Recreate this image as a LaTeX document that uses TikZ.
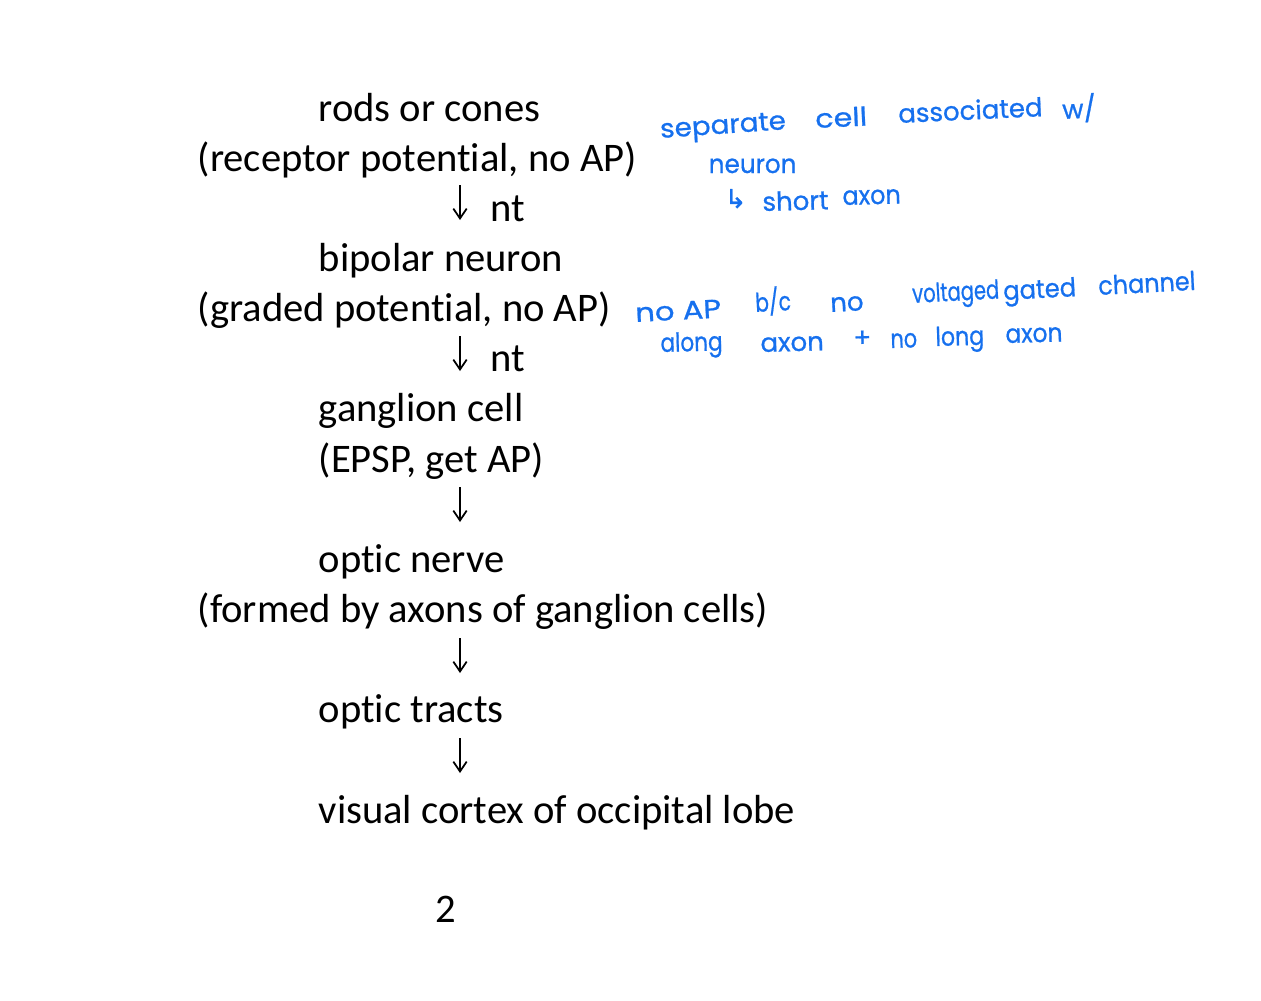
\documentclass[tikz,border=0pt]{standalone}
\usepackage{fontspec}
\setmainfont{Carlito}[Ligatures=NoCommon]
\newfontfamily\handfont{Poppins}[FakeBold=0.8]
\newfontfamily\symfont{DejaVu Sans}[FakeBold=0.8]
\usetikzlibrary{arrows.meta}
\definecolor{inkblue}{HTML}{1670EE}
\newcommand{\hx}[2]{\scalebox{#1}[1]{#2}}
\tikzset{
  line/.style={anchor=base west, inner sep=0pt, font=\fontsize{11.55pt}{14pt}\selectfont, text=black},
  hand/.style={anchor=base west, inner sep=0pt, font=\handfont\fontsize{7.4pt}{9pt}\selectfont, text=inkblue},
  flowarrow/.style={line width=0.5pt, -{Straight Barb[length=2.8pt,width=3.8pt,line width=0.5pt]}}
}
\begin{document}
\begin{tikzpicture}[x=0.1mm,y=-0.1mm]
\useasboundingbox (0,0) rectangle (1261,1000);
% main flow
\node[line] (n1) at (318,121) {rods or cones};
\node[line] (n2) at (197,171.2) {(receptor potential, no AP)};
\node[line] (nt1) at (490,221.3) {nt};
\node[line] (n3) at (318,271.5) {bipolar neuron};
\node[line] (n4) at (197,321.6) {(graded potential, no AP)};
\node[line] (nt2) at (490,371.8) {nt};
\node[line] (n5) at (318,421.9) {ganglion cell};
\node[line] (n6) at (318,472.1) {(EPSP, get AP)};
\node[line] (n7) at (318,572.4) {optic nerve};
\node[line] (n8) at (197,622.5) {(formed by axons of ganglion cells)};
\node[line] (n9) at (318,722.8) {optic tracts};
\node[line] (n10) at (318,823.1) {visual cortex of occipital lobe};
\node[line] (pg) at (435,922) {2};
% arrows
\coordinate (a1s) at (460,185); \coordinate (a1e) at (460,220);
\coordinate (a2s) at (460,336); \coordinate (a2e) at (460,371);
\coordinate (a3s) at (460,487); \coordinate (a3e) at (460,522);
\coordinate (a4s) at (460,638); \coordinate (a4e) at (460,673);
\coordinate (a5s) at (460,738); \coordinate (a5e) at (460,773);
\draw[flowarrow] (a1s) -- (a1e);
\draw[flowarrow] (a2s) -- (a2e);
\draw[flowarrow] (a3s) -- (a3e);
\draw[flowarrow] (a4s) -- (a4e);
\draw[flowarrow] (a5s) -- (a5e);
% handwritten notes
\node[hand, rotate=4] (h1) at (660,138) {\hx{1.07}{separate}};
\node[hand, rotate=2.7] (h2) at (815,128) {\hx{1.16}{cell}};
\node[hand, rotate=2.7] (h3) at (898,123) {associated};
\node[hand, rotate=2.7] (h4) at (1062,119) {w/};
\node[hand] (h5) at (708,173) {\hx{0.95}{neuron}};
\node[hand] (h6) at (724,208) {\symfont ↳};
\node[hand, rotate=1.5] (h7) at (762,211) {short};
\node[hand, rotate=1.5] (h8) at (842,205) {\hx{0.92}{axon}};
\node[hand, rotate=3] (h9) at (635,322) {\hx{1.18}{no AP}};
\node[hand, rotate=3] (h10) at (755,312) {\hx{0.78}{b/c}};
\node[hand, rotate=3] (h11) at (830,312) {no};
\node[hand, rotate=3] (h12) at (912,303) {\hx{0.75}{voltaged}};
\node[hand, rotate=3] (h13) at (1003,300) {\hx{0.93}{gated}};
\node[hand, rotate=3] (h14) at (1098,295) {\hx{0.92}{channel}};
\node[hand, rotate=1.5] (h15) at (660,352) {\hx{0.83}{along}};
\node[hand, rotate=1.5] (h16) at (760,352) {axon};
\node[hand, rotate=1.5] (h17) at (853,347) {+};
\node[hand, rotate=1.5] (h18) at (890,348) {\hx{0.8}{no}};
\node[hand, rotate=1.5] (h19) at (935,346) {\hx{0.85}{long}};
\node[hand, rotate=1.5] (h20) at (1005,343) {\hx{0.9}{axon}};
\end{tikzpicture}
\end{document}
